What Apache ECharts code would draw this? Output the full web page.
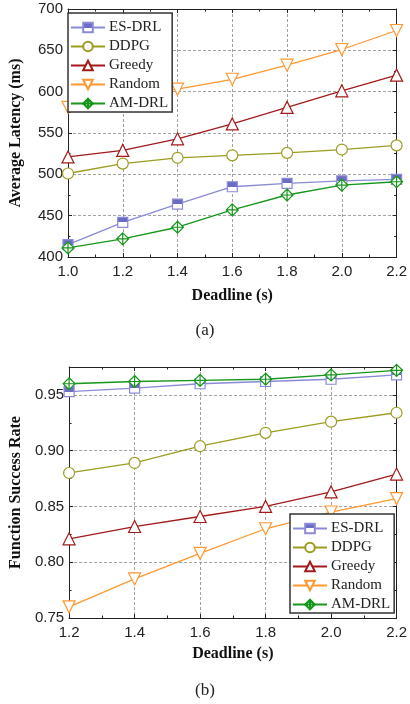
<!DOCTYPE html>
<html><head><meta charset="utf-8">
<script src="https://cdn.jsdelivr.net/npm/echarts@6/dist/echarts.min.js"></script>
<style>html,body{margin:0;padding:0;background:#fff}#c{width:410px;height:704px}</style>
</head><body><div id="c"></div>
<script>
const seriesNames = ['ES-DRL','DDPG','Greedy','Random','AM-DRL'];
// (a) Average latency vs deadline
const deadlineA = [1.0,1.2,1.4,1.6,1.8,2.0,2.2];
const latESDRL  = [415,442,464,485,489,492,494];
const latDDPG   = [501,513,520,523,526,530,535];
const latGreedy = [521,529,543,561,581,601,620];
const latRandom = [581,592,603,615,632,651,674];
const latAMDRL  = [411,422,436,457,475,487,491];
// (b) Function success rate vs deadline
const deadlineB = [1.2,1.4,1.6,1.8,2.0,2.2];
const fsrESDRL  = [0.953,0.956,0.960,0.962,0.964,0.968];
const fsrDDPG   = [0.880,0.889,0.904,0.916,0.926,0.934];
const fsrGreedy = [0.821,0.832,0.841,0.850,0.863,0.879];
const fsrRandom = [0.760,0.785,0.808,0.830,0.845,0.857];
const fsrAMDRL  = [0.960,0.962,0.963,0.964,0.968,0.972];
const subLabels = ['(a)','(b)'];
const xTitle = 'Deadline (s)';
const yTitles = ['Average Latency (ms)','Function Success Rate'];

const serif = '"Liberation Serif","DejaVu Serif",serif';
const sans = '"Liberation Sans",Arial,sans-serif';
const styles = [
  {color:'#8a8ad8', symbol:'rect', fill:{type:'linear',x:0,y:0,x2:0,y2:1,colorStops:[{offset:0,color:'#6c6cc4'},{offset:0.5,color:'#6c6cc4'},{offset:0.5,color:'#ffffff'},{offset:1,color:'#ffffff'}]}, size:10},
  {color:'#9c9c22', symbol:'circle', fill:'#ffffff', size:11},
  {color:'#a31a1a', symbol:'triangle', fill:'#ffffff', size:12},
  {color:'#ff9830', symbol:'path://M0,0 L10,0 L5,9 Z', fill:'#ffffff', size:12},
  {color:'#16961a', symbol:'path://M5,0 L10,5 L5,10 L0,5 Z M5,0 L5,10 M0,5 L10,5', fill:'#ffffff', size:12}
];
const dataA = [latESDRL,latDDPG,latGreedy,latRandom,latAMDRL];
const dataB = [fsrESDRL,fsrDDPG,fsrGreedy,fsrRandom,fsrAMDRL];

function pairs(xs, ys){ return xs.map((x,i)=>[x,ys[i]]); }

const series = [];
[dataA,dataB].forEach((set,g)=>{
  const xs = g===0?deadlineA:deadlineB;
  set.forEach((ys,i)=>{
    const s = styles[i];
    series.push({
      name: seriesNames[i], type:'line', xAxisIndex:g*2, yAxisIndex:g*2,
      data: pairs(xs,ys), symbol:s.symbol, symbolSize:s.size, showAllSymbol:true,
      clip:false, animation:false,
      lineStyle:{color:s.color,width:1.3},
      itemStyle:{color:s.fill,borderColor:s.color,borderWidth:1.2},
      z: 3+i
    });
  });
});

const gridLine = {show:true,lineStyle:{color:'#8a8a8a',type:[3,2],width:0.8}};
function mainX(gi,min,max){
  return {type:'value',gridIndex:gi,min:min,max:max,interval:0.2,position:'bottom',
    axisLine:{show:true,lineStyle:{color:'#222',width:1}},
    axisTick:{show:true,inside:true,length:4,lineStyle:{color:'#222'}},
    minorTick:{show:true,splitNumber:2,length:2.5,lineStyle:{color:'#222'}},
    axisLabel:{color:'#222',fontFamily:sans,fontSize:15,margin:7,formatter:v=>v.toFixed(1)},
    splitLine:gridLine,
    name:xTitle,nameLocation:'middle',nameGap:gi===0?31:28,
    nameTextStyle:{fontFamily:serif,fontWeight:'bold',fontSize:16,color:'#111'}};
}
function mirrorX(gi,min,max){
  return {type:'value',gridIndex:gi,min:min,max:max,interval:0.2,position:'top',
    axisLine:{show:true,lineStyle:{color:'#222',width:1}},
    axisTick:{show:true,inside:true,length:4,lineStyle:{color:'#222'}},
    minorTick:{show:true,splitNumber:2,length:2.5,lineStyle:{color:'#222'}},
    axisLabel:{show:false},splitLine:{show:false}};
}
function mainY(gi,min,max,interval,fmt,name,gap){
  return {type:'value',gridIndex:gi,min:min,max:max,interval:interval,position:'left',
    axisLine:{show:true,lineStyle:{color:'#222',width:1}},
    axisTick:{show:true,inside:true,length:4,lineStyle:{color:'#222'}},
    minorTick:{show:true,splitNumber:2,length:2.5,lineStyle:{color:'#222'}},
    axisLabel:{color:'#222',fontFamily:sans,fontSize:15,margin:5,formatter:fmt,showMaxLabel:gi===0},
    splitLine:gridLine,
    name:name,nameLocation:'middle',nameGap:gap,nameRotate:90,
    nameTextStyle:{fontFamily:serif,fontWeight:'bold',fontSize:16,color:'#111'}};
}
function mirrorY(gi,min,max,interval){
  return {type:'value',gridIndex:gi,min:min,max:max,interval:interval,position:'right',
    axisLine:{show:true,lineStyle:{color:'#222',width:1}},
    axisTick:{show:true,inside:true,length:4,lineStyle:{color:'#222'}},
    minorTick:{show:true,splitNumber:2,length:2.5,lineStyle:{color:'#222'}},
    axisLabel:{show:false},splitLine:{show:false}};
}

const legendBase = {
  orient:'vertical', data:seriesNames, backgroundColor:'#fff', z:20,
  borderColor:'#333', borderWidth:1.5, padding:[7,4,1,2],
  itemWidth:34, itemHeight:12, itemGap:4,
  textStyle:{fontFamily:serif,fontSize:15,lineHeight:15,color:'#222',padding:[0,0,0,-1]}
};

const option = {
  animation:false,
  backgroundColor:'#fff',
  grid:[
    {left:66,top:9,width:336,height:248,show:false},
    {left:63,top:367,width:338,height:251,show:false}
  ],
  xAxis:[mainX(0,1.0,2.2),mirrorX(0,1.0,2.2),mainX(1,1.2,2.2),mirrorX(1,1.2,2.2)],
  yAxis:[
    mainY(0,400,700,50,v=>String(v),yTitles[0],44),
    mirrorY(0,400,700,50),
    mainY(1,0.75,0.975,0.05,v=>(Math.abs(v-0.975)<1e-6?'':v.toFixed(2)),yTitles[1],41),
    mirrorY(1,0.75,0.975,0.05)
  ],
  legend:[
    Object.assign({},legendBase,{left:68,top:13}),
    Object.assign({},legendBase,{left:290,top:514})
  ],
  title:[
    {text:subLabels[0],left:'center',top:317,textStyle:{fontFamily:serif,fontWeight:'normal',fontSize:17,color:'#222'}},
    {text:subLabels[1],left:'center',top:677,textStyle:{fontFamily:serif,fontWeight:'normal',fontSize:17,color:'#222'}}
  ],
  series:series
};
const chart = echarts.init(document.getElementById('c'),null,{renderer:'canvas'});
chart.setOption(option);
</script></body></html>
